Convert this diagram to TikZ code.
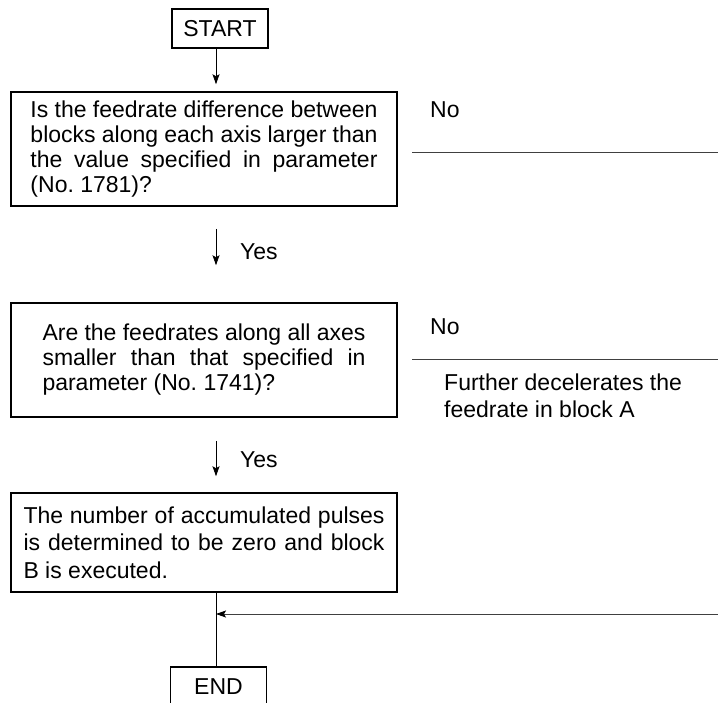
\documentclass[tikz,border=0pt]{standalone}
\usepackage{fontspec}
\setmainfont{Liberation Sans}
\usetikzlibrary{arrows.meta}

\begin{document}
\begin{tikzpicture}[x=1pt,y=-1pt,
	box/.style={draw, black, line width=1.5pt, minimum width=386pt, inner sep=0pt, align=justify, font=\fontsize{23}{25}\selectfont},
	term/.style={draw, black, line width=1.5pt, minimum width=96pt, minimum height=39pt, inner sep=0pt, font=\fontsize{23}{25}\selectfont},
	lbl/.style={anchor=west, inner sep=0pt, font=\fontsize{23}{27}\selectfont},
	flow/.style={-{Stealth[length=10pt,width=7pt,inset=2pt]}, line width=0.8pt},
	exit/.style={black!75, line width=0.9pt}]

	\useasboundingbox (0,0) rectangle (718,702);

	\node [name=start, term] at (220,28.5) {START};

	\node [name=check1, box, text width=347pt, minimum height=114pt] at (204,149) {Is the feedrate difference between\linebreak blocks along each axis larger than\linebreak the value specified in parameter\linebreak (No.~1781)?};

	\node [name=check2, box, text width=323pt, minimum height=114pt] at (204,360) {Are the feedrates along all axes\linebreak smaller than that specified in\linebreak parameter (No.~1741)?};

	\node [name=result, box, text width=361pt, minimum height=99pt, font=\fontsize{23}{27.5}\selectfont] at (204,542.5) {The number of accumulated pulses\linebreak is determined to be zero and block\linebreak B is executed.};

	\node [name=finish, term] at (218.5,686.5) {END};


\node [name=yes1, lbl] at (240,252) {Yes};
\node [name=yes2, lbl] at (240,460) {Yes};

\node [name=no1, lbl] at (430,110) {No};
\node [name=no2, lbl] at (430,327) {No};

\node [name=slower, lbl, align=left] at (444,396) {Further decelerates the\\feedrate in block A};


\coordinate (spine) at (216,0);
\coordinate (exit1) at (412,152);
\coordinate (exit2) at (412,359);
\coordinate (back) at (718,614);

\draw [flow, shorten >=7pt] (spine |- start.south) -- (spine |- check1.north);
\draw [flow, shorten <=22pt, shorten >=37pt] (spine |- check1.south) -- (spine |- check2.north);
\draw [flow, shorten <=23pt, shorten >=16pt] (spine |- check2.south) -- (spine |- result.north);
\draw [line width=0.8pt] (spine |- result.south) -- (spine |- finish.north);

\draw [exit] (exit1) -- (exit1 -| back);
\draw [exit] (exit2) -- (exit2 -| back);
\draw [exit, flow, -{Stealth[length=10pt,width=7pt,inset=2pt,black]}] (back) -- (back -| spine);

	\end{tikzpicture}
\end{document}
